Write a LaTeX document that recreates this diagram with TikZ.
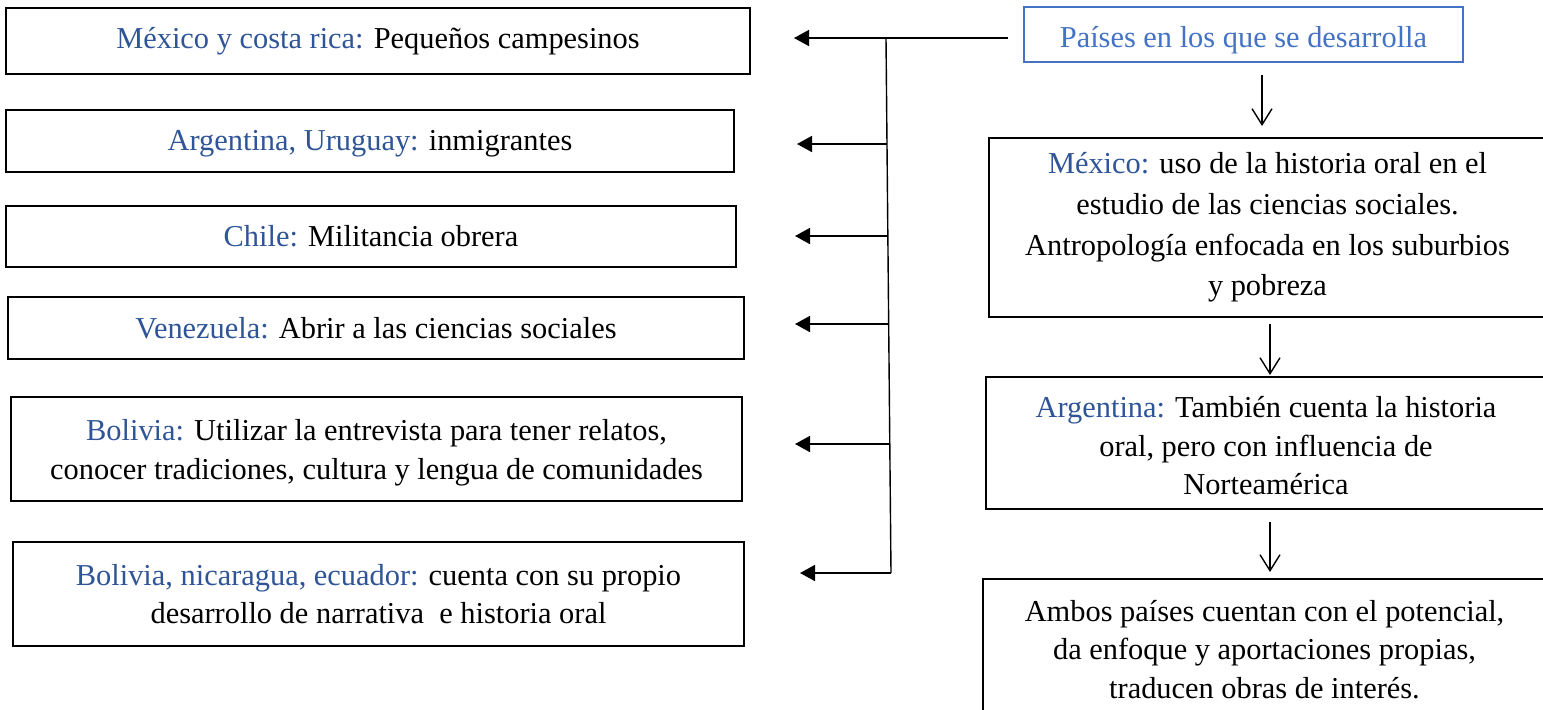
\documentclass[tikz,border=0pt]{standalone}
\usepackage{fontspec}
\setmainfont{Liberation Serif}
\usetikzlibrary{arrows.meta}
\definecolor{lblue}{HTML}{2F5597}
\definecolor{tblue}{HTML}{4472C4}
\newcommand{\lab}[1]{{\color{lblue}#1}}
\begin{document}
\begin{tikzpicture}[x=0.5pt,y=-0.5pt,
  font=\fontsize{15.2}{19.3}\selectfont,
  box/.style={draw=black, line width=1pt, inner sep=0pt, align=center},
  topbox/.style={draw=tblue, line width=0.8pt, inner sep=0pt, align=center, text=tblue},
  harr/.style={line width=0.8pt, -{Triangle[length=7.5pt,width=8pt]}},
  trunk/.style={line width=0.7pt},
  varr/.style={line width=0.7pt, -{Straight Barb[length=8pt,width=10pt]}}]
\useasboundingbox (0,0) rectangle (1543,709);

% left boxes
\node[box, minimum width=372pt, minimum height=33pt] (l1) at (378,41)
  {\lab{México y costa rica:} Pequeños campesinos};
\node[box, minimum width=364pt, minimum height=31pt] (l2) at (370,141)
  {\rule{0pt}{13pt}\lab{Argentina, Uruguay:} inmigrantes};
\node[box, minimum width=365pt, minimum height=30.5pt] (l3) at (371,236.5)
  {\lab{Chile:} Militancia obrera};
\node[box, minimum width=368pt, minimum height=31pt] (l4) at (376,328)
  {\lab{Venezuela:} Abrir a las ciencias sociales};
\node[box, minimum width=365.5pt, minimum height=52pt] (l5) at (376.5,449)
  {\rule{0pt}{14pt}\lab{Bolivia:} Utilizar la entrevista para tener relatos,\\ conocer tradiciones, cultura y lengua de comunidades};
\node[box, minimum width=365.5pt, minimum height=52pt] (l6) at (378.5,594)
  {\lab{Bolivia, nicaragua, ecuador:} cuenta con su propio\\ desarrollo de narrativa\ \ e historia oral};

% right boxes
\node[topbox, minimum width=219.5pt, minimum height=27.5pt] (r0) at (1243.5,34.5)
  {\rule{0pt}{16.5pt}Países en los que se desarrolla};
\node[box, minimum width=278.5pt, minimum height=89.5pt,
  font=\fontsize{15.2}{20.3}\selectfont] (r1) at (1267.5,227.5)
  {\lab{México:} uso de la historia oral en el\\ estudio de las ciencias sociales.\\ Antropología enfocada en los suburbios\\ y pobreza};
\node[box, minimum width=280pt, minimum height=66pt] (r2) at (1266,443)
  {\rule{0pt}{13.5pt}\lab{Argentina:} También cuenta la historia\\ oral, pero con influencia de\\ Norteamérica};
\node[box, minimum width=281.5pt, minimum height=70.5pt] (r3) at (1264.5,649.5)
  {Ambos países cuentan con el potencial,\\ da enfoque y aportaciones propias,\\ traducen obras de interés.};

% branching connectors
\coordinate (s0) at (1008,38);
\coordinate (j0) at (886,38);
\coordinate (j5) at (891,573);
\coordinate (t0) at (794,38);
\draw[harr] (s0) -- (t0);
\draw[trunk] (j0) -- (j5);
\coordinate (j1) at (887,144);   \coordinate (t1) at (797,144);
\coordinate (j2) at (888,236);   \coordinate (t2) at (795,236);
\coordinate (j3) at (888.7,324); \coordinate (t3) at (795,324);
\coordinate (j4) at (889.8,444); \coordinate (t4) at (795,444);
\coordinate (t5) at (800,573);
\draw[harr] (j1) -- (t1);
\draw[harr] (j2) -- (t2);
\draw[harr] (j3) -- (t3);
\draw[harr] (j4) -- (t4);
\draw[harr] (j5) -- (t5);

% vertical chain
\coordinate (v0a) at (1262,75);  \coordinate (v0b) at (1262,126);
\coordinate (v1a) at (1270,324); \coordinate (v1b) at (1270,375);
\coordinate (v2a) at (1270,522); \coordinate (v2b) at (1270,572);
\draw[varr] (v0a) -- (v0b);
\draw[varr] (v1a) -- (v1b);
\draw[varr] (v2a) -- (v2b);
\end{tikzpicture}
\end{document}
